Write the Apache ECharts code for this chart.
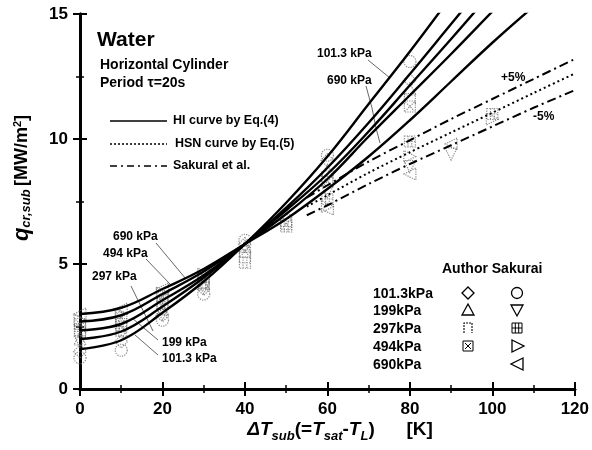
<!DOCTYPE html>
<html><head><meta charset="utf-8">
<script src="https://cdn.jsdelivr.net/npm/echarts@6/dist/echarts.min.js"></script>
<style>html,body{margin:0;padding:0;background:#fff}#c{width:592px;height:450px}</style>
</head><body><div id="c"></div>
<script>
// ---- data ----
const xTickLabels = ['0','20','40','60','80','100','120'];
const yTickLabels = ['0','5','10','15'];
const pressures = ['101.3kPa','199kPa','297kPa','494kPa','690kPa'];

// HI curves by Eq.(4) [ΔT, q]
const hi101 = [[0,1.6],[10,1.95],[20,3.05],[30,4.3],[40,5.8],[50,7.45],[60,9.3],[70,11.4],[80,13.5],[90,15.7]];
const hi199 = [[0,2.0],[10,2.3],[20,3.3],[30,4.45],[40,5.8],[50,7.25],[60,8.85],[70,10.65],[80,12.6],[90,14.6],[100,16.6]];
const hi297 = [[0,2.35],[10,2.6],[20,3.55],[30,4.55],[40,5.8],[50,7.15],[60,8.6],[70,10.3],[80,12.15],[90,14.0],[100,15.9]];
const hi494 = [[0,2.7],[10,2.95],[20,3.8],[30,4.7],[40,5.8],[50,7.0],[60,8.4],[70,10.1],[80,11.75],[90,13.4],[100,15.1],[110,16.8]];
const hi690 = [[0,3.0],[10,3.25],[20,4.0],[30,4.8],[40,5.8],[50,6.8],[60,8.0],[70,9.3],[80,10.75],[90,12.3],[100,13.85],[110,15.3]];
// HSN curve by Eq.(5)
const hsn = [[55,7.3],[60,7.75],[70,8.65],[80,9.47],[90,10.26],[100,11.05],[110,11.84],[120,12.62]];
// Sakurai et al. +5% / -5%
const sakUp = [[55,7.65],[60,8.15],[70,9.1],[80,9.95],[90,10.8],[100,11.6],[110,12.4],[120,13.2]];
const sakLo = [[55,6.95],[60,7.35],[70,8.2],[80,9.0],[90,9.75],[100,10.5],[110,11.25],[120,11.95]];

// measured points
const authDia = [[0,1.5],[10,1.9],[20,2.95],[30,4.0],[40,5.8],[60,9.15],[80,12.35]];
const authTri = [[0,2.0],[10,2.35],[20,3.2],[30,4.2],[40,5.7],[60,8.75],[80,12.0]];
const authOpen = [[0,2.4],[10,2.6],[20,3.5],[30,4.35],[40,5.3],[50,6.75],[60,8.5],[80,11.6]];
const authX = [[0,2.6],[10,2.85],[20,3.7],[30,4.5],[40,5.5],[50,6.6],[60,8.3],[80,11.3]];
const sakCirc = [[0,1.25],[10,1.55],[20,2.75],[30,3.8],[40,5.95],[60,9.35],[80,13.1]];
const sakTriDn = [[0,1.9],[10,2.2],[20,3.0],[30,4.05],[60,7.9],[80,8.9],[90,9.4]];
const sakGrid = [[0,2.3],[10,2.5],[20,3.4],[30,4.25],[40,5.05],[50,6.5],[60,7.6],[80,9.9],[100,11.0]];
const sakTriR = [[0,2.75],[10,3.0],[20,3.85],[30,4.6],[60,7.3],[80,9.3],[100,10.8]];
const sakTriL = [[0,3.0],[10,3.2],[20,4.0],[30,4.7],[60,7.2],[80,8.6],[90,9.8]];

// ---- chart ----
const FONT = '"Liberation Sans", Arial, sans-serif';
const chart = echarts.init(document.getElementById('c'), null, {renderer:'canvas'});

const SYM = {
  openSq: 'path://M0,10 L0,0 L10,0 L10,10',
  xSq: 'path://M0,0 L10,0 L10,10 L0,10 Z M1,1 L9,9 M9,1 L1,9',
  gridSq: 'path://M0,0 L10,0 L10,10 L0,10 Z M3.3,0 L3.3,10 M6.7,0 L6.7,10 M0,5 L10,5'
};
function curve(d){ return {type:'line', data:d, smooth:0.4, symbol:'none', silent:true, z:3,
  lineStyle:{color:'#000', width:2.4}}; }
function dashed(d, t, w){ return {type:'line', data:d, smooth:0.3, symbol:'none', silent:true, z:3,
  lineStyle:{color:'#000', width:w||2, type:t}}; }
function pts(d, sym, rot, size){ return {type:'scatter', data:d, symbol:sym, symbolRotate:rot||0,
  symbolSize:size||12, z:2, silent:true,
  itemStyle:{color:'rgba(0,0,0,0)', borderColor:'#6e6e6e', borderWidth:1.2, borderType:'dotted'}}; }

const axLine = {lineStyle:{color:'#000', width:3}};
const axTick = {inside:true, length:7, lineStyle:{color:'#000', width:2}};
const minTick = {show:true, splitNumber:2, length:4, lineStyle:{color:'#000', width:1.5}};
const lblStyle = {fontFamily:FONT, fontWeight:'bold', fontSize:17, color:'#000'};

// legend graphics
const g = [];
function txt(x,y,t,fs,extra){ g.push({type:'text', x:x, y:y, style:Object.assign({text:t, font:'bold '+fs+'px '+FONT, fill:'#000', textVerticalAlign:'middle'}, extra||{})}); }
function ln(x1,y1,x2,y2,w,dash){ g.push({type:'line', shape:{x1,y1,x2,y2}, style:{stroke:'#000', lineWidth:w, lineDash:dash||null}}); }

txt(97,40,'Water',21);
txt(100,65,'Horizontal Cylinder',14);
txt(100,83,'Period \u03c4=20s',14);
ln(110,121,167,121,1.5);
ln(110,144,167,144,1.5,[2,2]);
ln(110,166,167,166,1.5,[7,4,2,4]);
txt(173,121,'HI curve by Eq.(4)',12.5);
txt(175,144,'HSN curve by Eq.(5)',12.5);
txt(173,166,'Sakural et al.',12.5);

// annotations
txt(317,54,'101.3 kPa',12);
ln(368,60,390,78,0.6);
txt(327,81,'690 kPa',12);
g.push({type:'polyline', shape:{points:[[366,86],[372,108],[376,128],[380,143]]}, style:{stroke:'#000', lineWidth:0.6, fill:null}});
txt(501,78,'+5%',12);
txt(533,117,'-5%',12);
txt(113,237,'690 kPa',12);
ln(156,243,186,279,0.6);
txt(103,254,'494 kPa',12);
ln(146,259,170,284,0.6);
txt(92,277,'297 kPa',12);
ln(131,286,153,331,0.6);
txt(162,343,'199 kPa',12);
ln(158,340,132,318,0.6);
txt(162,359,'101.3 kPa',12);
ln(158,355,135,335,0.6);

// bottom-right legend
txt(442,269,'Author Sakurai',14);
const rowY = [293,310,328,346,364];
pressures.forEach((p,i)=>txt(373,rowY[i]+1,p,14));
const sx1 = 468, sx2 = 517;
function poly(pts){ g.push({type:'polygon', shape:{points:pts}, style:{stroke:'#000', lineWidth:1.3, fill:null}}); }
poly([[sx1,rowY[0]-6],[sx1+6,rowY[0]],[sx1,rowY[0]+6],[sx1-6,rowY[0]]]);
g.push({type:'circle', shape:{cx:sx2, cy:rowY[0], r:5.5}, style:{stroke:'#000', lineWidth:1.3, fill:null}});
poly([[sx1,rowY[1]-6],[sx1+6,rowY[1]+5],[sx1-6,rowY[1]+5]]);
poly([[sx2-6,rowY[1]-5],[sx2+6,rowY[1]-5],[sx2,rowY[1]+6]]);
g.push({type:'polyline', shape:{points:[[sx1-4,rowY[2]+5],[sx1-4,rowY[2]-5],[sx1+4,rowY[2]-5],[sx1+4,rowY[2]+5]]}, style:{stroke:'#000', lineWidth:1.1, fill:null, lineDash:[2,1]}});
g.push({type:'rect', shape:{x:sx2-5, y:rowY[2]-5, width:10, height:10}, style:{stroke:'#000', lineWidth:1, fill:null}});
ln(sx2-1.7,rowY[2]-5,sx2-1.7,rowY[2]+5,1); ln(sx2+1.7,rowY[2]-5,sx2+1.7,rowY[2]+5,1); ln(sx2-5,rowY[2],sx2+5,rowY[2],1);
g.push({type:'rect', shape:{x:sx1-5, y:rowY[3]-5, width:10, height:10}, style:{stroke:'#000', lineWidth:1, fill:null}});
ln(sx1-3,rowY[3]-3,sx1+3,rowY[3]+3,1); ln(sx1+3,rowY[3]-3,sx1-3,rowY[3]+3,1);
poly([[sx2-5,rowY[3]-6],[sx2+7,rowY[3]],[sx2-5,rowY[3]+6]]);
poly([[sx2+6,rowY[4]-6],[sx2-6,rowY[4]],[sx2+6,rowY[4]+6]]);

// axis titles
g.push({type:'text', x:22, y:178, rotation:Math.PI/2, style:{
  text:'{q|q}{s|cr,sub} {n|[MW/m}{sup|2}{n|]}', textAlign:'center', textVerticalAlign:'middle',
  rich:{
    q:{font:'italic bold 22px '+FONT, fill:'#000'},
    s:{font:'italic bold 13px '+FONT, fill:'#000', padding:[9,0,0,0]},
    n:{font:'bold 18px '+FONT, fill:'#000'},
    sup:{font:'bold 11px '+FONT, fill:'#000', padding:[0,0,9,0]}
  }}});
g.push({type:'text', x:340, y:430, style:{
  text:'{t|\u0394T}{s|sub}{n|(=}{t|T}{s|sat}{n|-}{t|T}{s|L}{n|)      [K]}', textAlign:'center', textVerticalAlign:'middle',
  rich:{
    t:{font:'italic bold 19px '+FONT, fill:'#000'},
    s:{font:'italic bold 13px '+FONT, fill:'#000', padding:[12,0,0,0]},
    n:{font:'bold 19px '+FONT, fill:'#000'}
  }}});

chart.setOption({
  animation:false,
  backgroundColor:'#fff',
  grid:{left:80, right:17, top:14, bottom:61, show:false},
  xAxis:[
    {type:'value', min:0, max:120, interval:20, position:'bottom', axisLine:axLine, axisTick:axTick, minorTick:minTick,
     splitLine:{show:false}, axisLabel:Object.assign({margin:12, formatter:(v)=>xTickLabels[v/20]}, lblStyle)},
    {type:'value', min:0, max:120, interval:20, position:'top', axisLine:axLine, axisTick:axTick, minorTick:minTick,
     splitLine:{show:false}, axisLabel:{show:false}}
  ],
  yAxis:[
    {type:'value', min:0, max:15, interval:5, position:'left', axisLine:axLine, axisTick:axTick, minorTick:minTick,
     splitLine:{show:false}, axisLabel:Object.assign({margin:12, formatter:(v)=>yTickLabels[v/5]}, lblStyle)},
    {type:'value', min:0, max:15, interval:5, position:'right', axisLine:axLine, axisTick:axTick, minorTick:minTick,
     splitLine:{show:false}, axisLabel:{show:false}}
  ],
  series:[
    pts(authDia,'diamond',0,13), pts(authTri,'triangle',0,12), pts(authOpen,SYM.openSq,0,11), pts(authX,SYM.xSq,0,11),
    pts(sakCirc,'circle',0,12), pts(sakTriDn,'triangle',180,12), pts(sakGrid,SYM.gridSq,0,11),
    pts(sakTriR,'triangle',-90,12), pts(sakTriL,'triangle',90,12),
    curve(hi101), curve(hi199), curve(hi297), curve(hi494), curve(hi690),
    dashed(hsn,[2,3],2), dashed(sakUp,[9,4,2,4],2), dashed(sakLo,[9,4,2,4],2)
  ],
  graphic:g
});
</script></body></html>
